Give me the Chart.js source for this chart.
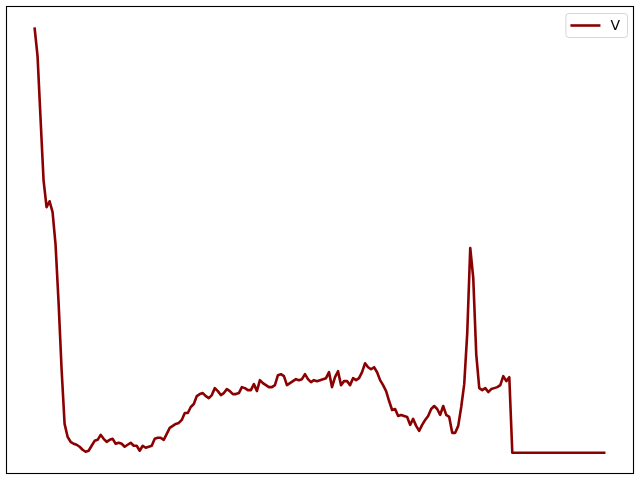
<!DOCTYPE html>
<html>
<head>
<meta charset="utf-8">
<script src="https://cdn.jsdelivr.net/npm/chart.js@4/dist/chart.umd.min.js"></script>
<style>
  html, body { margin: 0; padding: 0; background: #fff; }
  #wrap { width: 640px; height: 480px; position: relative; }
</style>
</head>
<body>
<div id="wrap"><canvas id="c" width="640" height="480"></canvas></div>
<script>
const seriesLabel = 'V';
const values = [
  428, 399, 336, 274, 247, 253, 242, 209, 151, 84,
  29, 16, 11, 9, 8, 6, 3, 1, 2, 7,
  12, 13, 18, 14, 11, 13, 14, 9, 10, 9,
  6, 8, 10, 7, 7, 2, 7, 5, 6, 7,
  14, 15, 15, 13, 19, 25, 27, 29, 30, 33,
  40, 40, 46, 49, 57, 59, 60, 57, 55, 58,
  65, 62, 58, 60, 64, 62, 59, 59, 60, 66,
  65, 63, 63, 69, 62, 73, 70, 68, 66, 66,
  68, 78, 79, 77, 68, 70, 72, 74, 73, 74,
  79, 74, 71, 73, 72, 73, 74, 75, 81, 66,
  76, 82, 68, 72, 72, 68, 75, 73, 75, 81,
  90, 86, 84, 86, 81, 73, 68, 62, 52, 43,
  44, 37, 38, 37, 36, 28, 34, 27, 22, 28,
  33, 37, 44, 47, 44, 38, 47, 38, 36, 20,
  20, 27, 46, 69, 120, 206, 176, 99, 65, 63,
  65, 61, 64, 65, 66, 68, 77, 72, 76,
  0, 0, 0, 0, 0, 0, 0, 0, 0, 0,
  0, 0, 0, 0, 0, 0, 0, 0, 0, 0,
  0, 0, 0, 0, 0, 0, 0, 0, 0, 0,
  0, 0
];
const xIndex = values.map((_, i) => i);

const lineColor = '#8b0000';
const xMin = Math.min(...xIndex), xMax = Math.max(...xIndex);
const yMin = Math.min(...values), yMax = Math.max(...values);
const xPad = (xMax - xMin) * 0.05, yPad = (yMax - yMin) * 0.05;

const framePlugin = {
  id: 'frame',
  beforeDraw(chart) {
    const ctx = chart.ctx;
    ctx.save();
    ctx.fillStyle = '#fff';
    ctx.fillRect(0, 0, chart.width, chart.height);
    ctx.restore();
  },
  afterDraw(chart) {
    const ctx = chart.ctx, a = chart.chartArea;
    ctx.save();
    ctx.strokeStyle = '#000';
    ctx.lineWidth = 1.1;
    ctx.strokeRect(a.left + 0.5, a.top + 0.5, a.right - a.left - 1, a.bottom - a.top - 1);
    // legend (inside axes, upper right)
    const ds = chart.data.datasets[0];
    ctx.font = '14px "DejaVu Sans"';
    const tw = ctx.measureText(ds.label).width;
    const bw = 5 + 30 + 10 + tw + 7, bh = 24;
    const bx = a.right - 7 - bw, by = a.top + 7;
    ctx.beginPath();
    if (ctx.roundRect) ctx.roundRect(bx + 0.5, by + 0.5, bw, bh, 3); else ctx.rect(bx + 0.5, by + 0.5, bw, bh);
    ctx.fillStyle = 'rgba(255,255,255,0.8)';
    ctx.fill();
    ctx.strokeStyle = '#d6d6d6';
    ctx.lineWidth = 1;
    ctx.stroke();
    const ly = by + bh / 2 + 0.5;
    ctx.beginPath();
    ctx.moveTo(bx + 5, ly);
    ctx.lineTo(bx + 35, ly);
    ctx.strokeStyle = ds.borderColor;
    ctx.lineWidth = ds.borderWidth;
    ctx.stroke();
    ctx.fillStyle = '#000';
    ctx.textBaseline = 'middle';
    ctx.fillText(ds.label, bx + 45, ly + 0.5);
    ctx.restore();
  }
};

new Chart(document.getElementById('c'), {
  type: 'line',
  data: {
    datasets: [{
      label: seriesLabel,
      data: xIndex.map((x, i) => ({ x: x, y: values[i] })),
      borderColor: lineColor,
      backgroundColor: lineColor,
      borderWidth: 2.6,
      borderJoinStyle: 'round',
      pointRadius: 0,
      tension: 0,
      fill: false
    }]
  },
  options: {
    responsive: false,
    animation: false,
    devicePixelRatio: 1,
    layout: { padding: { left: 6, right: 6, top: 6, bottom: 6 } },
    plugins: { legend: { display: false }, tooltip: { enabled: false } },
    scales: {
      x: { type: 'linear', display: false, min: xMin - xPad, max: xMax + xPad },
      y: { type: 'linear', display: false, min: yMin - yPad, max: yMax + yPad }
    }
  },
  plugins: [framePlugin]
});
</script>
</body>
</html>
